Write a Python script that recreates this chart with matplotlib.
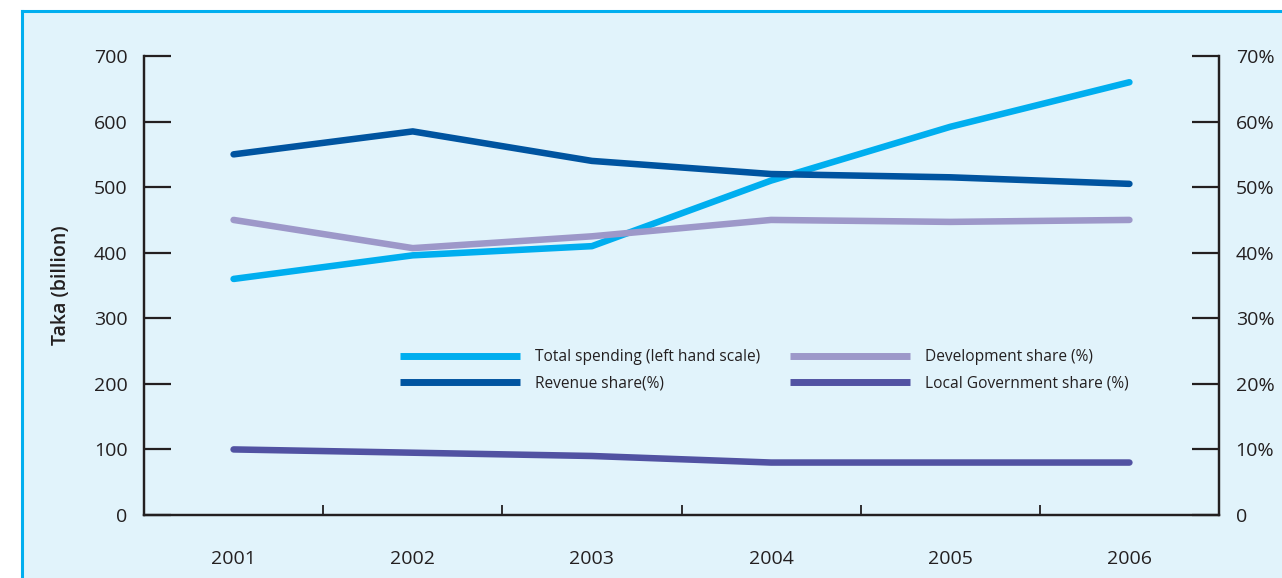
import matplotlib
matplotlib.use("Agg")
import matplotlib.pyplot as plt
from matplotlib.patches import Rectangle
from matplotlib.lines import Line2D

plt.rcParams['font.family'] = ['Open Sans', 'DejaVu Sans']

years = ['2001', '2002', '2003', '2004', '2005', '2006']
total_spending = [360, 396, 410, 510, 592, 660]          # Taka billion (left scale)
revenue_share = [55.0, 58.5, 54.0, 52.0, 51.5, 50.5]      # % (right scale)
development_share = [45.0, 40.7, 42.5, 45.0, 44.7, 45.0]  # %
local_gov_share = [10.0, 9.5, 9.0, 8.0, 8.0, 8.0]         # %

left_ticks = [0, 100, 200, 300, 400, 500, 600, 700]
right_ticks = [0, 10, 20, 30, 40, 50, 60, 70]
right_labels = ['0', '10%', '20%', '30%', '40%', '50%', '60%', '70%']

c_total = '#00aeef'
c_rev = '#0054a0'
c_dev = '#9d98c9'
c_local = '#5152a2'
c_ink = '#231f20'
c_panel = '#e1f3fb'

W, H = 1282, 578
fig = plt.figure(figsize=(W / 100, H / 100), dpi=100)
fig.patch.set_facecolor('white')

# light blue panel with a cyan edge along the top and left
px0, py0 = 22 / W, 1 - 11 / H
fig.patches.append(Rectangle((px0, 0), 1 - px0, py0, transform=fig.transFigure,
                             facecolor=c_panel, edgecolor='none', zorder=-2))
fig.lines.append(Line2D([px0, px0], [0, py0], transform=fig.transFigure,
                        color=c_total, lw=2.2, zorder=-1))
fig.lines.append(Line2D([px0, 1], [py0, py0], transform=fig.transFigure,
                        color=c_total, lw=2.2, zorder=-1))

ax_l, ax_r = 144 / W, 1219 / W
ax_b, ax_t = 1 - 515 / H, 1 - 56 / H
ax = fig.add_axes([ax_l, ax_b, ax_r - ax_l, ax_t - ax_b])
ax.set_facecolor('none')
ax2 = ax.twinx()
ax2.set_facecolor('none')

x = list(range(len(years)))
lw = 4.7
h_total, = ax.plot(x, total_spending, color=c_total, lw=lw, solid_capstyle='round',
                   solid_joinstyle='round', zorder=3)
h_rev, = ax2.plot(x, revenue_share, color=c_rev, lw=lw, solid_capstyle='round',
                  solid_joinstyle='round', zorder=3)
h_dev, = ax2.plot(x, development_share, color=c_dev, lw=lw, solid_capstyle='round',
                  solid_joinstyle='round', zorder=2)
h_loc, = ax2.plot(x, local_gov_share, color=c_local, lw=lw, solid_capstyle='round',
                  solid_joinstyle='round', zorder=3)

ax.set_xlim(-0.5, len(years) - 0.5)
ax.set_ylim(0, 700)
ax2.set_ylim(0, 70)

for a in (ax, ax2):
    a.spines['top'].set_visible(False)
    for s in ('left', 'right', 'bottom'):
        a.spines[s].set_color(c_ink)
        a.spines[s].set_linewidth(1.6)

# category labels centred between boundary ticks
ax.set_xticks([i + 0.5 for i in range(len(years) - 1)])
ax.set_xticklabels([])
ax.set_xticks(x, minor=True)
ax.set_xticklabels(years, minor=True)
ax.tick_params(axis='x', which='major', direction='in', length=7.5, width=1.3, color=c_ink)
ax.tick_params(axis='x', which='minor', length=0, pad=25, labelsize=14, labelcolor=c_ink)

ax.set_yticks(left_ticks)
ax.set_yticklabels([str(v) for v in left_ticks])
ax.tick_params(axis='y', direction='in', length=19.5, width=1.6, color=c_ink,
               pad=12, labelsize=14, labelcolor=c_ink)
ax2.set_yticks(right_ticks)
ax2.set_yticklabels(right_labels)
ax2.tick_params(axis='y', direction='in', length=19.5, width=1.6, color=c_ink,
                pad=12, labelsize=14, labelcolor=c_ink)

ax.set_ylabel('Taka (billion)', fontsize=14, fontweight='semibold', color=c_ink,
              labelpad=16)

leg_kw = dict(frameon=False, fontsize=11.2, handlelength=7.7, handletextpad=0.95,
              labelspacing=0.66, borderpad=0, borderaxespad=0, labelcolor=c_ink)
leg1 = fig.legend([h_total, h_rev], ['Total spending (left hand scale)', 'Revenue share(%)'],
                  loc='upper left', bbox_to_anchor=(400 / W, 1 - 349 / H), **leg_kw)
leg2 = fig.legend([h_dev, h_loc], ['Development share (%)', 'Local Government share (%)'],
                  loc='upper left', bbox_to_anchor=(790 / W, 1 - 349 / H), **leg_kw)
for leg in (leg1, leg2):
    for ln in leg.get_lines():
        ln.set_linewidth(5)
        ln.set_solid_capstyle('butt')

fig.savefig('out.png', dpi=100, facecolor=fig.get_facecolor())
